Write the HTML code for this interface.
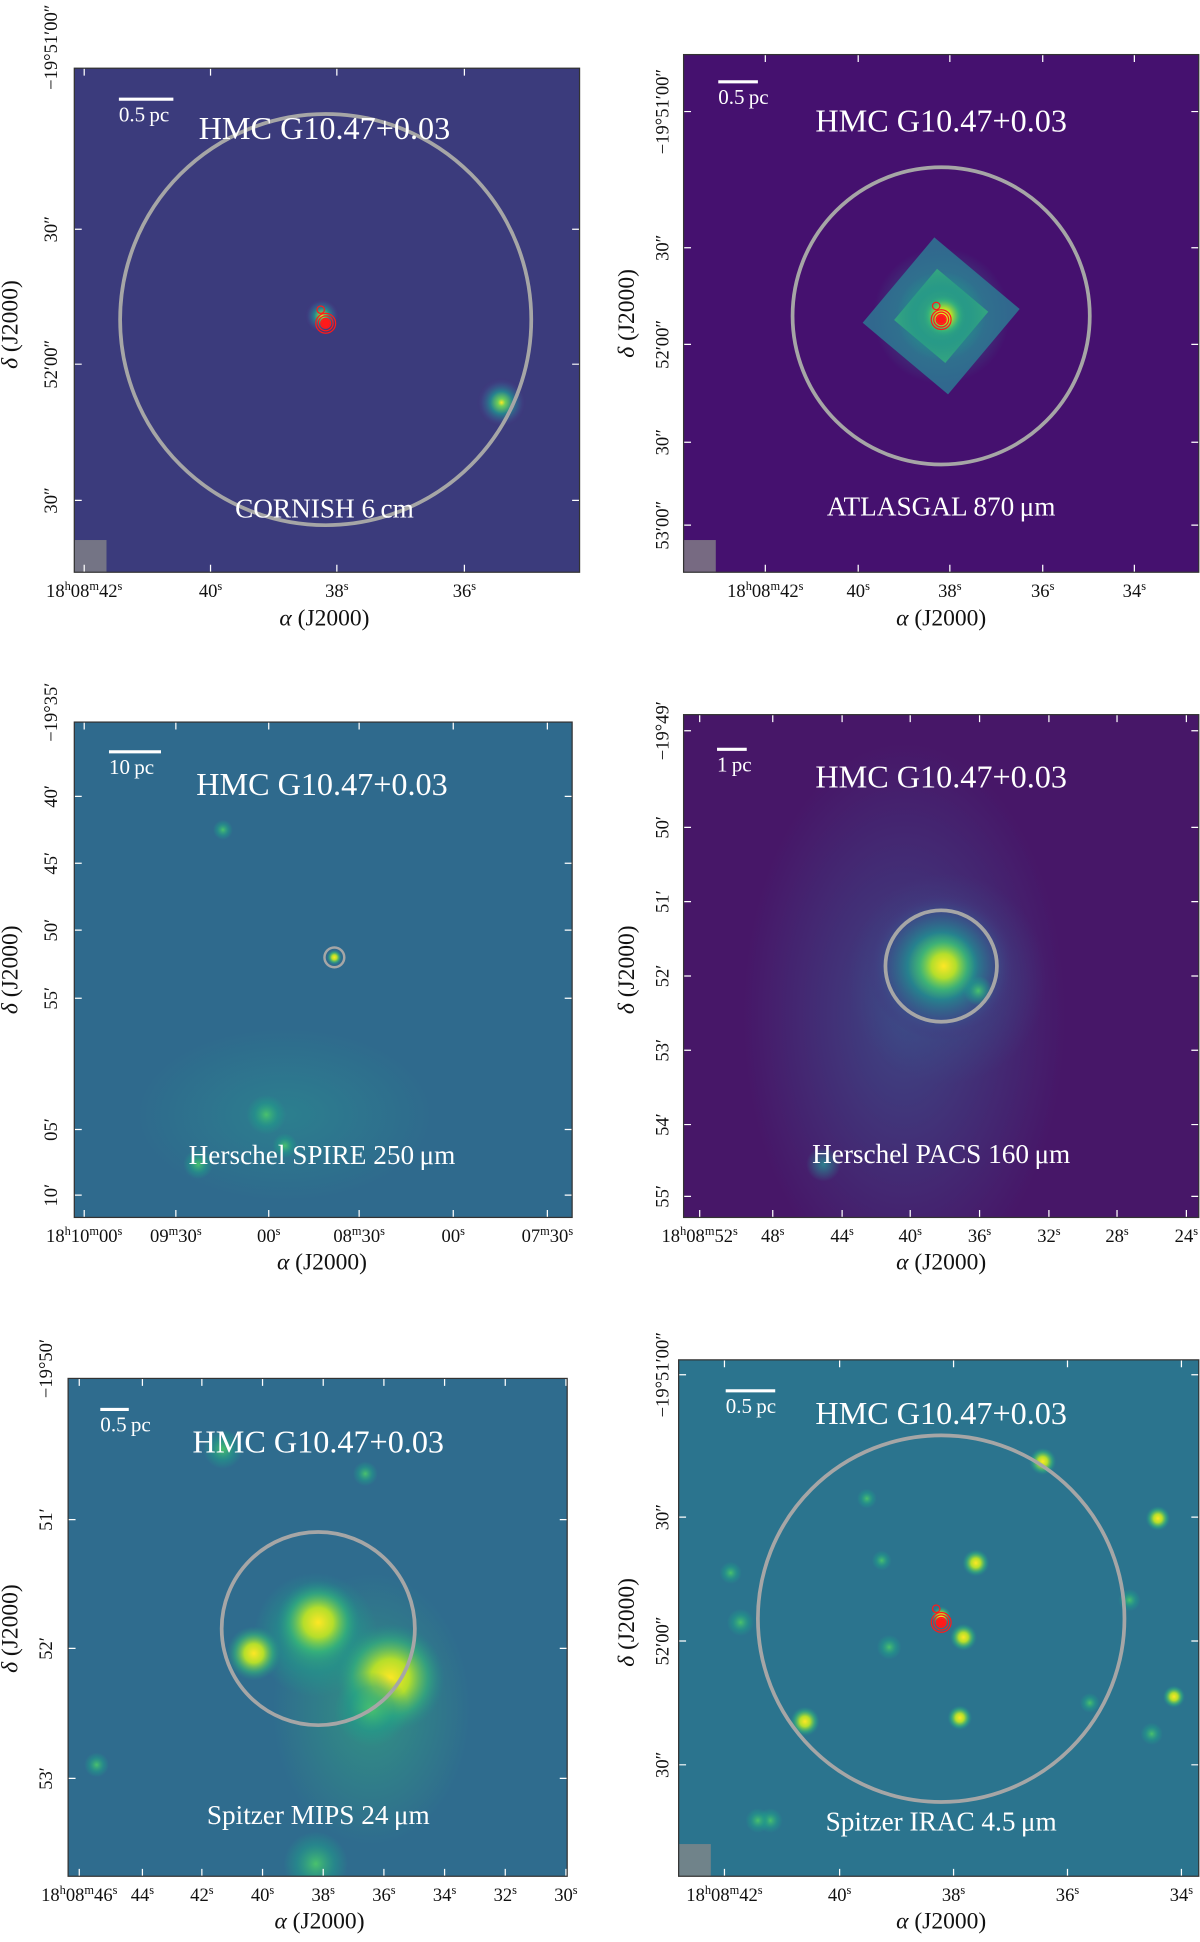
<!DOCTYPE html>
<html><head><meta charset="utf-8"><style>
html,body{margin:0;padding:0;background:#fff;width:1200px;height:1942px;overflow:hidden}
svg{display:block;font-family:"Liberation Serif",serif}
</style></head><body>
<svg id="fig" width="1200" height="1942" viewBox="0 0 969 1568" xmlns="http://www.w3.org/2000/svg">
<defs>
<radialGradient id="gY"><stop offset="0" stop-color="#fde725"/><stop offset="0.35" stop-color="#b5de2b"/><stop offset="0.7" stop-color="#35b779" stop-opacity="0.6"/><stop offset="1" stop-color="#21918c" stop-opacity="0"/></radialGradient>
<radialGradient id="gG"><stop offset="0" stop-color="#4ac16d"/><stop offset="0.6" stop-color="#1f9e89" stop-opacity="0.5"/><stop offset="1" stop-color="#1f9e89" stop-opacity="0"/></radialGradient>
<radialGradient id="gT"><stop offset="0" stop-color="#2c7f8e"/><stop offset="1" stop-color="#2c7f8e" stop-opacity="0"/></radialGradient>
<radialGradient id="gH"><stop offset="0" stop-color="#3b528b" stop-opacity="0.8"/><stop offset="1" stop-color="#3b528b" stop-opacity="0"/></radialGradient>
<radialGradient id="gM"><stop offset="0" stop-color="#35b779" stop-opacity="0.5"/><stop offset="1" stop-color="#35b779" stop-opacity="0"/></radialGradient>
<radialGradient id="gP"><stop offset="0" stop-color="#fde725"/><stop offset="0.15" stop-color="#6ece58"/><stop offset="0.45" stop-color="#26828e"/><stop offset="0.75" stop-color="#3b528b" stop-opacity="0.6"/><stop offset="1" stop-color="#472d7b" stop-opacity="0"/></radialGradient>
</defs>
<g id="layer"></g>
</svg>
<script>
const NS="http://www.w3.org/2000/svg";
const panelNames=["cornish","atlasgal","spire","pacs","mips","irac"];
const panelBoxes=[[60,55,468,462],[552,44,968,462],[60,583,462,983],[552,577,968,983],[55,1113,458,1515],[548,1098,968,1515]];
const panelBg=["#3b3b7c","#45116f","#2f6a8d","#471768","#2f6c8e","#2b748e"];
const titles=["HMC G10.47+0.03","HMC G10.47+0.03","HMC G10.47+0.03","HMC G10.47+0.03","HMC G10.47+0.03","HMC G10.47+0.03"];
const titlePos=[[262,112],[760,106],[260,642],[760,636],[257,1173],[760,1150]];
const bandLabels=["CORNISH 6\u2009cm","ATLASGAL 870\u2009\u03bcm","Herschel SPIRE 250\u2009\u03bcm","Herschel PACS 160\u2009\u03bcm","Spitzer MIPS 24\u2009\u03bcm","Spitzer IRAC 4.5\u2009\u03bcm"];
const bandPos=[[262,418],[760,416],[260,940],[760,939],[257,1473],[760,1478]];
const circles=[[263,258,166],[760,255,120],[270,773,8],[760,780,45],[257,1315,78],[760,1307,148]];
const scaleBars=[[96,140,80,"0.5\u2009pc"],[580,612,66,"0.5\u2009pc"],[88,130,607,"10\u2009pc"],[579,603,605,"1\u2009pc"],[81,104,1138,"0.5\u2009pc"],[586,626,1123,"0.5\u2009pc"]];
const xTicks=[
 [[68,"18h08m42s"],[170,"40s"],[272,"38s"],[375,"36s"]],
 [[618,"18h08m42s"],[693,"40s"],[767,"38s"],[842,"36s"],[916,"34s"]],
 [[68,"18h10m00s"],[142,"09m30s"],[217,"00s"],[290,"08m30s"],[366,"00s"],[442,"07m30s"]],
 [[565,"18h08m52s"],[624,"48s"],[680,"44s"],[735,"40s"],[791,"36s"],[847,"32s"],[902,"28s"],[958,"24s"]],
 [[64,"18h08m46s"],[115,"44s"],[163,"42s"],[212,"40s"],[261,"38s"],[310,"36s"],[359,"34s"],[408,"32s"],[457,"30s"]],
 [[585,"18h08m42s"],[678,"40s"],[770,"38s"],[862,"36s"],[954,"34s"]]];
const yTicks=[
 [[38,"\u221219\u00b051\u203200\u2033"],[185,"30\u2033"],[294,"52\u203200\u2033"],[404,"30\u2033"]],
 [[90,"\u221219\u00b051\u203200\u2033"],[200,"30\u2033"],[278,"52\u203200\u2033"],[357,"30\u2033"],[424,"53\u203200\u2033"]],
 [[575,"\u221219\u00b035\u2032"],[643,"40\u2032"],[697,"45\u2032"],[751,"50\u2032"],[806,"55\u2032"],[912,"05\u2032"],[965,"10\u2032"]],
 [[590,"\u221219\u00b049\u2032"],[668,"50\u2032"],[728,"51\u2032"],[788,"52\u2032"],[848,"53\u2032"],[908,"54\u2032"],[966,"55\u2032"]],
 [[1105,"\u221219\u00b050\u2032"],[1227,"51\u2032"],[1331,"52\u2032"],[1436,"53\u2032"]],
 [[1110,"\u221219\u00b051\u203200\u2033"],[1225,"30\u2033"],[1325,"52\u203200\u2033"],[1425,"30\u2033"]]];
const yTickX=[46,540,46,540,42,540];
const axisX=[[262,505],[760,505],[260,1025],[760,1025],[258,1557],[760,1557]];
const axisY=[[14,262],[512,253],[14,783],[512,783],[14,1315],[512,1310]];
// blobs
const blobPanel=[0,0,1,1,1,2,2,2,2,2,3,3,3,3,4,4,4,4,4,4,4,4,4,5,5,5,5,5,5,5,5,5,5,5,5,5,5,5,5,5,5];
const blobX=[260,405,760,760,762,270,215,160,230,180,760,762,790,665,255,257,205,315,300,180,295,78,255,760,788,778,650,598,842,935,775,718,930,912,700,712,948,880,622,590,612];
const blobY=[255,325,255,255,255,773,900,940,925,670,780,780,800,940,1320,1310,1335,1355,1380,1170,1190,1425,1505,1305,1262,1322,1390,1310,1180,1226,1387,1330,1400,1292,1210,1260,1370,1375,1470,1270,1470];
const blobR=[14,20,55,36,18,6,16,12,10,8,60,28,12,14,50,34,22,44,30,16,10,10,26,8,11,11,12,11,11,10,10,10,9,9,8,8,9,8,10,9,10];
const blobG=["gP","gP","gT","gG","gY","gY","gG","gG","gG","gG","gP","gY","gG","gT","gG","gY","gY","gY","gG","gG","gG","gG","gG","gY","gY","gY","gY","gG","gY","gY","gY","gG","gG","gG","gG","gG","gY","gG","gG","gG","gG"];

const layer=document.getElementById('layer');
function mk(tag,attrs,parent,text){const e=document.createElementNS(NS,tag);for(const k in attrs)e.setAttribute(k,attrs[k]);if(text!==undefined)e.textContent=text;(parent||layer).appendChild(e);return e;}
function tickText(str){return str.replace(/([hms])/g,"<tspan baseline-shift='super' font-size='10'>$1</tspan>");}

panelBoxes.forEach((b,i)=>{
  const g=mk('g',{});
  
  
  const clipId='c'+i;
  const cp=mk('clipPath',{id:clipId},g);mk('rect',{x:b[0],y:b[1],width:b[2]-b[0],height:b[3]-b[1]},cp);
  const img=mk('g',{'clip-path':'url(#'+clipId+')'},g);
  const bg=mk('rect',{x:b[0],y:b[1],width:b[2]-b[0],height:b[3]-b[1],fill:panelBg[i]},img);
  
  
  if(i===2){mk('ellipse',{cx:230,cy:900,rx:120,ry:70,fill:'url(#gT)'},img);}
  if(i===3){mk('ellipse',{cx:730,cy:820,rx:130,ry:220,fill:'url(#gH)'},img);mk('ellipse',{cx:765,cy:790,rx:80,ry:85,fill:'url(#gH)'},img);}
  if(i===4){mk('ellipse',{cx:300,cy:1380,rx:80,ry:110,fill:'url(#gM)'},img);}
  if(i===1){mk('rect',{x:715,y:210,width:90,height:90,fill:'#31688e',transform:'rotate(40 760 255)'},img);mk('rect',{x:733,y:228,width:54,height:54,fill:'#35b779',transform:'rotate(40 760 255)'},img);}
  blobPanel.forEach((p,k)=>{ if(p!==i)return;
    const c=mk('circle',{cx:blobX[k],cy:blobY[k],r:blobR[k],fill:'url(#'+blobG[k]+')'},img);
    
    
  });
  if(i===0||i===1||i===5){const cx=circles[i][0],cy=circles[i][1];
    const rc=mk('g',{fill:'none',stroke:'#ff1a1a','stroke-width':1},img);
    
    
    [2,4,6,8].forEach(r=>mk('circle',{cx:cx,cy:cy+3,r:r},rc));
    mk('circle',{cx:cx-4,cy:cy-8,r:3},rc);
    mk('circle',{cx:cx,cy:cy+3,r:3,fill:'#ff1a1a'},rc);
  }
  if(i===0||i===1||i===5){const beam=mk('rect',{x:b[0],y:b[3]-26,width:26,height:26,fill:'#888',opacity:0.75},img);}
  const circ=circles[i];
  const ring=mk('circle',{cx:circ[0],cy:circ[1],r:circ[2],fill:'none',stroke:'#a6a6a6','stroke-width':i===2?2:3},img);
  
  
  xTicks[i].forEach(t=>{mk('line',{x1:t[0],x2:t[0],y1:b[3],y2:b[3]-6,stroke:'#fff','stroke-width':1},img);mk('line',{x1:t[0],x2:t[0],y1:b[1],y2:b[1]+6,stroke:'#fff','stroke-width':1},img);});
  yTicks[i].forEach(t=>{if(t[0]>b[1]){mk('line',{x1:b[0],x2:b[0]+6,y1:t[0],y2:t[0],stroke:'#fff'},img);mk('line',{x1:b[2],x2:b[2]-6,y1:t[0],y2:t[0],stroke:'#fff'},img);}});
  mk('rect',{x:b[0],y:b[1],width:b[2]-b[0],height:b[3]-b[1],fill:'none',stroke:'#333','stroke-width':1},g);
  const sb=scaleBars[i];
  const sl=mk('line',{x1:sb[0],x2:sb[1],y1:sb[2],y2:sb[2],stroke:'#fff','stroke-width':2.5},g);
  
  
  const st=mk('text',{x:sb[0],y:sb[2]+18,fill:'#fff','font-size':17},g,sb[3]);
  
  
  const tt=mk('text',{x:titlePos[i][0],y:titlePos[i][1],fill:'#fff','font-size':26,'text-anchor':'middle'},g,titles[i]);
  
  
  const bl=mk('text',{x:bandPos[i][0],y:bandPos[i][1],fill:'#fff','font-size':22,'text-anchor':'middle'},g,bandLabels[i]);
  
  
  xTicks[i].forEach(t=>{const e=mk('text',{x:t[0],y:b[3]+20,'font-size':15,'text-anchor':'middle',fill:'#111'},g);e.innerHTML=tickText(t[1]);
    
    });
  yTicks[i].forEach(t=>{const e=mk('text',{x:yTickX[i],y:t[0],'font-size':15,'text-anchor':'middle',fill:'#111',transform:'rotate(-90 '+yTickX[i]+' '+t[0]+')'},g,t[1]);
    
    });
  const ax=mk('text',{x:axisX[i][0],y:axisX[i][1],'font-size':19,'text-anchor':'middle',fill:'#111'},g);
  ax.innerHTML="<tspan font-style='italic'>\u03b1</tspan> (J2000)";
  
  
  const ay=mk('text',{x:axisY[i][0],y:axisY[i][1],'font-size':19,'text-anchor':'middle',fill:'#111',transform:'rotate(-90 '+axisY[i][0]+' '+axisY[i][1]+')'},g);
  ay.innerHTML="<tspan font-style='italic'>\u03b4</tspan> (J2000)";
  
  
});
</script>
</body></html>
